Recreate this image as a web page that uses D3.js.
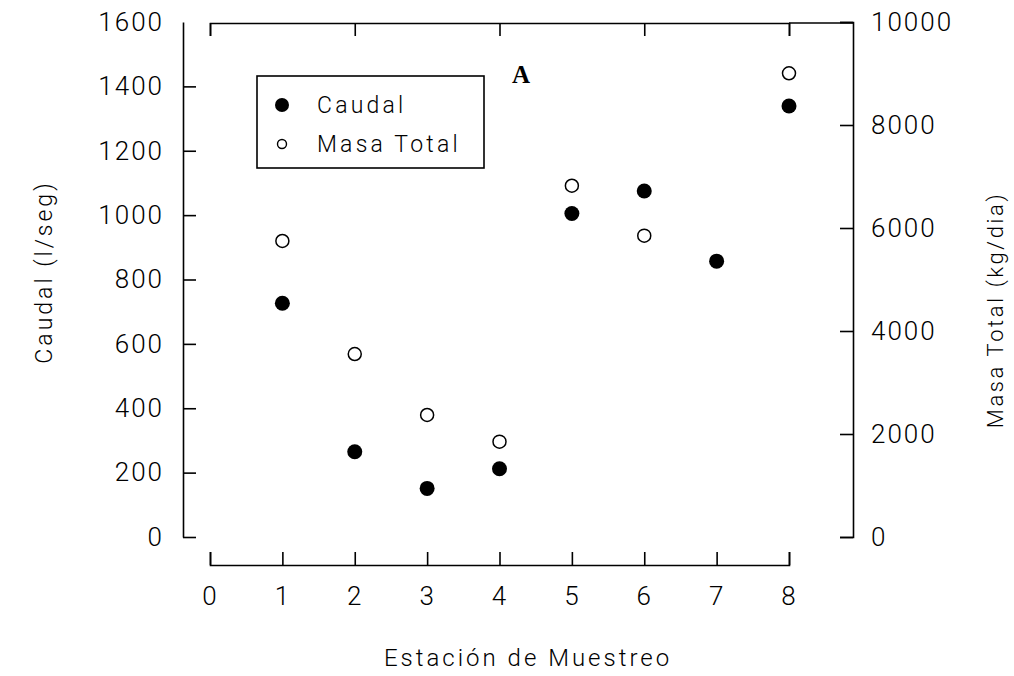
<html>
<head>
<meta charset="utf-8" />
<title>Caudal y Masa Total</title>
<script src="https://cdn.jsdelivr.net/npm/d3@7"></script>
<style>
  body { margin: 0; background: #fff; }
  text { font-family: Roboto, "DejaVu Sans", sans-serif; font-weight: 300; fill: #000; }
</style>
</head>
<body>
<script>

// values
var stations = [1, 2, 3, 4, 5, 6, 7, 8];
var caudal = [726, 265, 151, 212, 1005, 1075, 857, 1339];            // l/seg, left axis
var masaTotal = [5748, 3553, 2369, 1851, 6821, 5851, null, 9004];    // right axis
var xTicks = [0, 1, 2, 3, 4, 5, 6, 7, 8];
var topTicks = [0, 2, 4, 6, 8];
var leftTicks = [0, 200, 400, 600, 800, 1000, 1200, 1400, 1600];
var rightTicks = [0, 2000, 4000, 6000, 8000, 10000];
var seriesNames = ["Caudal", "Masa Total"];

var W = 1014, H = 676;

var svg = d3.select("body").append("svg")
	.attr("width", W)
	.attr("height", H)
	.attr("xmlns", "http://www.w3.org/2000/svg");

var xScale = d3.scaleLinear().domain([0, 8]).range([210, 789]);
var yLeft = d3.scaleLinear().domain([0, 1600]).range([537, 22]);
var yRight = d3.scaleLinear().domain([0, 10000]).range([537, 22]);

var axisX = 183, axisR = 853, axisBottomY = 565, axisTopY = 23;
var fmt = d3.format("d");

var styleAxis = function(g, size) {
	g.selectAll("path, line").attr("stroke", "#000").attr("stroke-width", 1.6);
	g.selectAll("text")
		.attr("font-family", "Roboto, 'DejaVu Sans', sans-serif")
		.attr("font-weight", 300)
		.attr("font-size", size)
		.attr("letter-spacing", 2)
		.attr("fill", "#000");
	g.attr("font-family", null).attr("font-size", null);
}

// left axis (Caudal)
var gl = svg.append("g")
	.attr("transform", "translate(" + axisX + ",0)")
	.call(d3.axisLeft(yLeft).tickValues(leftTicks).tickFormat(fmt).tickSizeInner(-13).tickSizeOuter(0).tickPadding(19));
styleAxis(gl, 26);
gl.selectAll(".tick").filter(d => d == 1600).select("line").remove();

// right axis (Masa Total)
var gr = svg.append("g")
	.attr("transform", "translate(" + axisR + ",0)")
	.call(d3.axisRight(yRight).tickValues(rightTicks).tickFormat(fmt).tickSizeInner(-13).tickSizeOuter(-13).tickPadding(18));
styleAxis(gr, 26);

// bottom axis, detached below the plot
var gb = svg.append("g")
	.attr("transform", "translate(0," + axisBottomY + ")")
	.call(d3.axisBottom(xScale).tickValues(xTicks).tickFormat(fmt).tickSizeInner(-13).tickSizeOuter(-13).tickPadding(22));
styleAxis(gb, 26);

// top axis, only even ticks, no labels
var gt = svg.append("g")
	.attr("transform", "translate(0," + axisTopY + ")")
	.call(d3.axisBottom(xScale).tickValues(topTicks).tickFormat("").tickSizeInner(13).tickSizeOuter(13));
styleAxis(gt, 26);

svg.append("line")
	.attr("x1", xScale(8)).attr("x2", axisR)
	.attr("y1", axisTopY).attr("y2", axisTopY)
	.attr("stroke", "#000").attr("stroke-width", 1.6);

// points
var rows = stations.map((s, i) => ({st: s, c: caudal[i], m: masaTotal[i]}));

svg.append("g").selectAll("circle")
	.data(rows.filter(d => d.m != null))
	.enter().append("circle")
	.attr("cx", d => xScale(d.st))
	.attr("cy", d => yRight(d.m))
	.attr("r", 6.5)
	.attr("fill", "#fff")
	.attr("stroke", "#000")
	.attr("stroke-width", 1.5);

svg.append("g").selectAll("circle")
	.data(rows)
	.enter().append("circle")
	.attr("cx", d => xScale(d.st))
	.attr("cy", d => yLeft(d.c))
	.attr("r", 7.5)
	.attr("fill", "#000");

// legend
var lg = svg.append("g").attr("transform", "translate(257,76)");
lg.append("rect")
	.attr("width", 227).attr("height", 92)
	.attr("fill", "none").attr("stroke", "#000").attr("stroke-width", 1.6);
lg.append("circle").attr("cx", 25).attr("cy", 29).attr("r", 7).attr("fill", "#000");
lg.append("circle").attr("cx", 25).attr("cy", 68).attr("r", 4.5)
	.attr("fill", "#fff").attr("stroke", "#000").attr("stroke-width", 1.4);
lg.selectAll("text.lab")
	.data(seriesNames)
	.enter().append("text")
	.attr("class", "lab")
	.attr("x", 60)
	.attr("y", (d, i) => 37 + i * 39)
	.attr("font-size", 23)
	.attr("letter-spacing", 3.2)
	.text(d => d);

// panel letter
svg.append("text")
	.attr("x", 521).attr("y", 83)
	.attr("text-anchor", "middle")
	.style("font-family", "'Liberation Serif', serif")
	.style("font-weight", 700)
	.style("font-size", "25px")
	.text("A");

// axis titles
svg.append("text")
	.attr("x", 528).attr("y", 666)
	.attr("text-anchor", "middle")
	.attr("font-size", 24)
	.attr("letter-spacing", 3)
	.text("Estación de Muestreo");

svg.append("text")
	.attr("transform", "translate(52,272) rotate(-90)")
	.attr("text-anchor", "middle")
	.attr("font-size", 23)
	.attr("letter-spacing", 3)
	.text("Caudal (l/seg)");

svg.append("text")
	.attr("transform", "translate(1003,310) rotate(-90)")
	.attr("text-anchor", "middle")
	.attr("font-size", 22)
	.attr("letter-spacing", 2.6)
	.text("Masa Total (kg/dia)");

</script>
</body>
</html>
